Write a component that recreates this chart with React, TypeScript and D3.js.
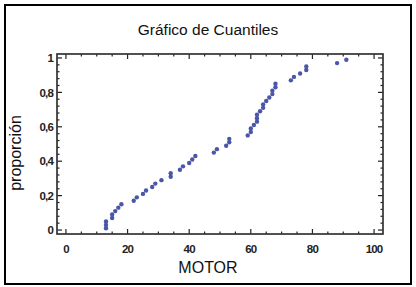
import React, { useEffect, useRef } from 'react';
import * as d3 from 'd3';

// MOTOR values, sorted (one per observation)
const motor = [
  13, 13, 13, 15, 15, 16, 17, 18, 22, 23,
  25, 26, 28, 29, 31, 34, 34, 37, 38, 40,
  41, 42, 48, 49, 52, 53, 53, 59, 60, 60,
  61, 62, 62, 62, 63, 64, 64, 65, 66, 67,
  67, 68, 68, 73, 74, 76, 78, 78, 88, 91,
];
// proportion read for each point
const proportion = [
  0.01, 0.03, 0.05, 0.07, 0.09, 0.11, 0.13, 0.15, 0.17, 0.19,
  0.21, 0.23, 0.25, 0.27, 0.29, 0.31, 0.33, 0.35, 0.37, 0.39,
  0.41, 0.43, 0.45, 0.47, 0.49, 0.51, 0.53, 0.55, 0.57, 0.59,
  0.61, 0.63, 0.65, 0.67, 0.69, 0.71, 0.73, 0.75, 0.77, 0.79,
  0.81, 0.83, 0.85, 0.87, 0.89, 0.91, 0.93, 0.95, 0.97, 0.99,
];
const xTicks = [0, 20, 40, 60, 80, 100];
const yTicks = [0, 0.2, 0.4, 0.6, 0.8, 1];
const xMinor = d3.range(0, 101, 5);
const yMinor = d3.range(0, 1.001, 0.04);

const title = 'Gráfico de Cuantiles';
const xLabel = 'MOTOR';
const yLabel = 'proporción';

const W = 416;
const H = 287;
const frame = { left: 57, right: 383, top: 54, bottom: 234 };

export default function App() {
  const ref = useRef<SVGSVGElement>(null);

  useEffect(() => {
    const svg = d3.select(ref.current);
    svg.selectAll('*').remove();

    const x = d3.scaleLinear([-2.9, 102.9], [frame.left, frame.right]);
    const y = d3.scaleLinear([-0.023, 1.023], [frame.bottom, frame.top]);
    const fmt = (d: number) => String(d).replace('.', ',');
    const font = 'Arial, "Liberation Sans", sans-serif';

    svg.append('rect')
      .attr('x', 0).attr('y', 0).attr('width', W).attr('height', H)
      .attr('fill', '#fff');

    // outer border
    svg.append('rect')
      .attr('x', 5).attr('y', 5).attr('width', 406).attr('height', 279)
      .attr('fill', 'none').attr('stroke', '#000').attr('stroke-width', 2);

    svg.append('text')
      .attr('x', 208).attr('y', 35)
      .attr('text-anchor', 'middle')
      .attr('font-family', font)
      .attr('font-size', 15.5)
      .attr('fill', '#111')
      .text(title);

    // ticks on all four sides, pointing in
    const g = svg.append('g').attr('stroke', '#222').attr('stroke-width', 1.2);
    xMinor.forEach((v) => {
      const len = v % 20 === 0 ? 5 : 2.5;
      g.append('line').attr('x1', x(v)).attr('x2', x(v))
        .attr('y1', frame.bottom).attr('y2', frame.bottom - len);
      g.append('line').attr('x1', x(v)).attr('x2', x(v))
        .attr('y1', frame.top).attr('y2', frame.top + len);
    });
    yMinor.forEach((v, i) => {
      const len = i % 5 === 0 ? 5 : 2.5;
      g.append('line').attr('y1', y(v)).attr('y2', y(v))
        .attr('x1', frame.left).attr('x2', frame.left + len);
      g.append('line').attr('y1', y(v)).attr('y2', y(v))
        .attr('x1', frame.right).attr('x2', frame.right - len);
    });

    // frame
    svg.append('rect')
      .attr('x', frame.left).attr('y', frame.top)
      .attr('width', frame.right - frame.left)
      .attr('height', frame.bottom - frame.top)
      .attr('fill', 'none').attr('stroke', '#333').attr('stroke-width', 1.7);

    // tick labels
    svg.append('g')
      .selectAll('text')
      .data(xTicks)
      .join('text')
      .attr('x', (d) => x(d))
      .attr('y', 252.5)
      .attr('text-anchor', 'middle')
      .attr('font-family', font)
      .attr('font-weight', 'bold')
      .attr('font-size', 11.5)
      .attr('letter-spacing', -0.8)
      .attr('fill', '#222')
      .text((d) => fmt(d));

    svg.append('g')
      .selectAll('text')
      .data(yTicks)
      .join('text')
      .attr('x', 53)
      .attr('y', (d) => y(d))
      .attr('dy', '0.36em')
      .attr('text-anchor', 'end')
      .attr('font-family', font)
      .attr('font-weight', 'bold')
      .attr('font-size', 11.5)
      .attr('letter-spacing', -0.8)
      .attr('fill', '#222')
      .text((d) => fmt(d));

    // axis titles
    svg.append('text')
      .attr('x', 208).attr('y', 273)
      .attr('text-anchor', 'middle')
      .attr('font-family', font)
      .attr('font-size', 16)
      .attr('fill', '#111')
      .text(xLabel);

    svg.append('text')
      .attr('transform', 'translate(21, 153) rotate(-90)')
      .attr('text-anchor', 'middle')
      .attr('font-family', font)
      .attr('font-size', 16)
      .attr('fill', '#111')
      .text(yLabel);

    // points
    svg.append('g')
      .selectAll('circle')
      .data(motor.map((m, i) => [m, proportion[i]]))
      .join('circle')
      .attr('cx', (d) => x(d[0]))
      .attr('cy', (d) => y(d[1]))
      .attr('r', 2.2)
      .attr('fill', '#4a56a8');
  }, []);

  return (
    <svg
      ref={ref}
      width={W}
      height={H}
      style={{ position: 'absolute', left: 0, top: 0 }}
    />
  );
}
